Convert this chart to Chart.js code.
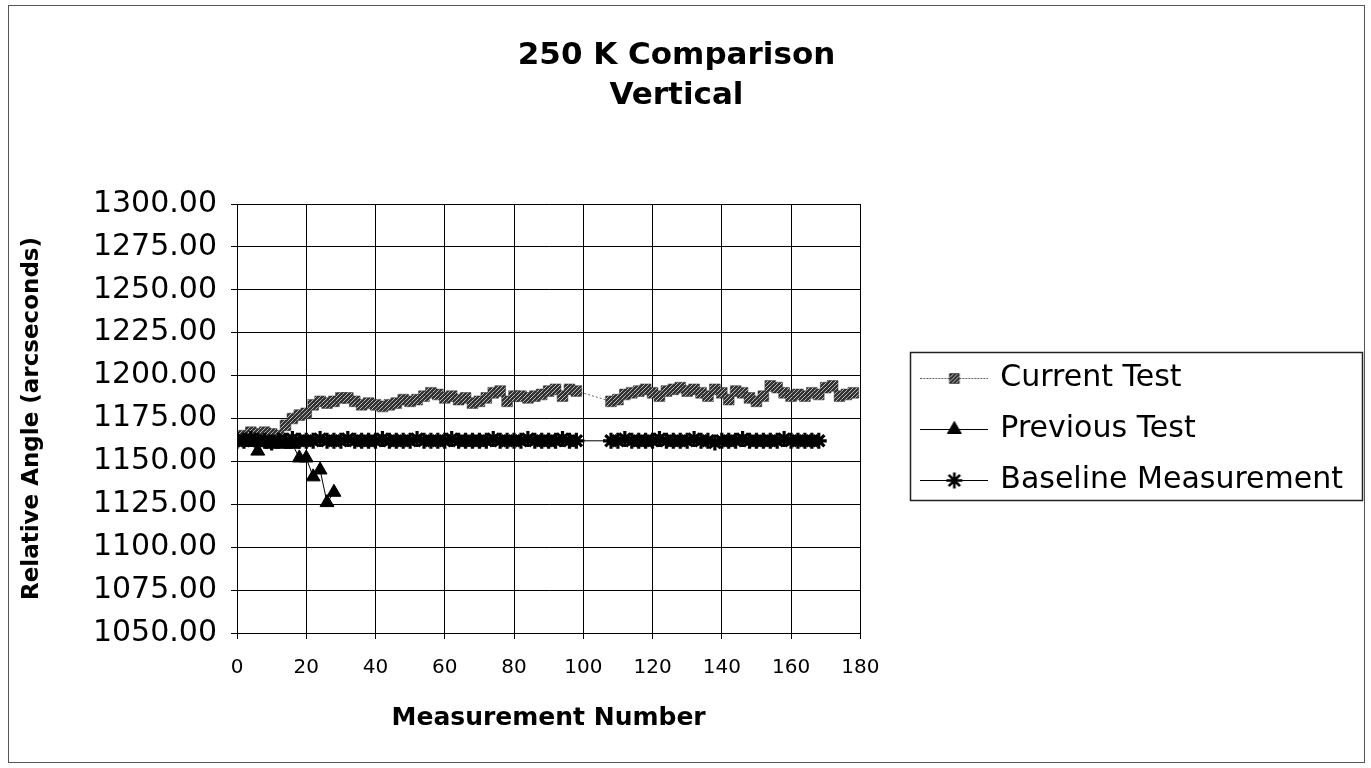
<!DOCTYPE html>
<html>
<head>
<meta charset="utf-8">
<title>250 K Comparison - Vertical</title>
<script src="https://cdn.jsdelivr.net/npm/chart.js@4.4.1/dist/chart.umd.min.js"></script>
<style>
  body { margin: 0; background: #fff; }
  canvas { display: block; }
</style>
</head>
<body>
<canvas id="chart" width="1371" height="768"></canvas>
<script>
// ===== DATA =====
var seriesNames = ['Current Test', 'Previous Test', 'Baseline Measurement'];

var xTickValues = [0, 20, 40, 60, 80, 100, 120, 140, 160, 180];
var yTickValues = [1050, 1075, 1100, 1125, 1150, 1175, 1200, 1225, 1250, 1275, 1300];

// Current Test (measurement number / relative angle)
var currentNums = [0, 2, 4, 6, 8, 10, 12, 14, 16, 18, 20, 22, 24, 26, 28, 30, 32, 34, 36, 38,
    40, 42, 44, 46, 48, 50, 52, 54, 56, 58, 60, 62, 64, 66, 68, 70, 72, 74, 76, 78,
    80, 82, 84, 86, 88, 90, 92, 94, 96, 98,
    108, 110, 112, 114, 116, 118, 120, 122, 124, 126, 128, 130, 132, 134, 136, 138,
    140, 142, 144, 146, 148, 150, 152, 154, 156, 158, 160, 162, 164, 166, 168, 170,
    172, 174, 176, 178];
var currentVals = [1164, 1165, 1167, 1166, 1167, 1166, 1165, 1171, 1175, 1177, 1178, 1183, 1185, 1184, 1185, 1187, 1187, 1185, 1183, 1184,
    1183, 1182, 1183, 1184, 1186, 1185, 1186, 1188, 1190, 1189, 1187, 1188, 1186, 1187, 1184, 1185, 1187, 1190, 1191, 1185,
    1188, 1188, 1187, 1188, 1189, 1191, 1192, 1188, 1192, 1191,
    1185, 1186, 1189, 1190, 1191, 1192, 1190, 1188, 1191, 1192, 1193, 1191, 1192, 1190, 1188, 1192,
    1190, 1186, 1191, 1190, 1187, 1185, 1188, 1194, 1193, 1190, 1188, 1189, 1188, 1190, 1189, 1193,
    1194, 1188, 1189, 1190];

// Previous Test
var previousNums = [0, 2, 4, 6, 8, 10, 12, 14, 16, 18, 20, 22, 24, 26, 28];
var previousVals = [1163, 1162, 1161, 1156, 1161, 1160, 1161, 1160, 1160, 1152, 1152, 1141, 1145, 1126, 1132];

// Baseline Measurement
var baselineNums = [0, 2, 4, 6, 8, 10, 12, 14, 16, 18, 20, 22, 24, 26, 28, 30, 32, 34, 36, 38,
    40, 42, 44, 46, 48, 50, 52, 54, 56, 58, 60, 62, 64, 66, 68, 70, 72, 74, 76, 78,
    80, 82, 84, 86, 88, 90, 92, 94, 96, 98,
    108, 110, 112, 114, 116, 118, 120, 122, 124, 126, 128, 130, 132, 134, 136, 138,
    140, 142, 144, 146, 148, 150, 152, 154, 156, 158, 160, 162, 164, 166, 168];
var baselineVals = [1162, 1162, 1163, 1162, 1162, 1161, 1162, 1162, 1163, 1162, 1162, 1162, 1163, 1162, 1162, 1162, 1163, 1162, 1162, 1162,
    1162, 1163, 1162, 1162, 1162, 1162, 1163, 1162, 1162, 1162, 1162, 1163, 1162, 1162, 1162, 1162, 1162, 1163, 1162, 1162,
    1162, 1162, 1163, 1162, 1162, 1162, 1162, 1163, 1162, 1162,
    1162, 1162, 1163, 1162, 1162, 1162, 1162, 1163, 1162, 1162, 1162, 1162, 1163, 1162, 1162, 1161,
    1162, 1162, 1162, 1163, 1162, 1162, 1162, 1162, 1162, 1163, 1162, 1162, 1162, 1162, 1162];

function toPoints(nums, vals) {
    return nums.map(function(n, i) { return { x: n, y: vals[i] }; });
}

// ===== STYLE HELPERS =====
Chart.defaults.font.family = "'DejaVu Sans', sans-serif";
Chart.defaults.color = '#000';

var mainCtx = document.getElementById('chart').getContext('2d');

// grey cross-hatched fill used by the "Current Test" squares
function makeHatch() {
    var c = document.createElement('canvas');
    c.width = 4; c.height = 4;
    var g = c.getContext('2d');
    g.fillStyle = '#333';
    g.fillRect(0, 0, 4, 4);
    g.fillStyle = '#bbb';
    g.fillRect(0, 0, 1, 1);
    g.fillRect(2, 2, 1, 1);
    g.fillRect(1, 3, 1, 1);
    g.fillRect(3, 1, 1, 1);
    return mainCtx.createPattern(c, 'repeat');
}
var hatch = makeHatch();

// legend icons: short line with the marker in the middle
function makeIcon(style, radius, fill, lineColor, dashed, pointBorder) {
    var c = document.createElement('canvas');
    c.width = 68; c.height = 24;
    var g = c.getContext('2d');
    g.strokeStyle = lineColor;
    g.lineWidth = 1;
    if (dashed) g.setLineDash([2, 1]);
    g.beginPath();
    g.moveTo(0, 12.5);
    g.lineTo(68, 12.5);
    g.stroke();
    g.setLineDash([]);
    g.fillStyle = fill;
    g.strokeStyle = '#000';
    g.lineWidth = pointBorder;
    Chart.helpers.drawPoint(g, { pointStyle: style, radius: radius, borderWidth: pointBorder, rotation: 0 }, 34, 12.5);
    return c;
}
var legendIcons = [
    makeIcon('rect', 7, hatch, '#666', true, 0.5),
    makeIcon('triangle', 8, '#000', '#000', false, 1),
    makeIcon('star', 8, '#000', '#000', false, 2.6)
];

// ===== PLUGINS =====
var frame = {
    id: 'frame',
    beforeDraw: function(chart) {
        var ctx = chart.ctx;
        ctx.save();
        ctx.fillStyle = '#fff';
        ctx.fillRect(0, 0, chart.width, chart.height);
        ctx.restore();
    },
    afterDraw: function(chart) {
        var ctx = chart.ctx;
        ctx.save();
        ctx.strokeStyle = '#555';
        ctx.lineWidth = 1;
        ctx.strokeRect(8.5, 5.5, 1356, 757);
        // legend box
        var lg = chart.legend;
        var hb = lg.legendHitBoxes;
        if (hb && hb.length) {
            var top = hb[0].top - 11;
            var bottom = hb[hb.length - 1].top + 35;
            ctx.strokeStyle = '#222';
            ctx.lineWidth = 1.5;
            ctx.strokeRect(Math.round(lg.left + 8) + 0.5, Math.round(top) + 0.5,
                Math.round(lg.right - lg.left + 1), Math.round(bottom - top));
        }
        ctx.restore();
    }
};

// ===== CHART =====
new Chart(mainCtx, {
    type: 'scatter',
    data: {
        datasets: [{
            label: seriesNames[0],
            data: toPoints(currentNums, currentVals),
            showLine: true,
            order: 2,
            borderColor: '#6a6a6a',
            borderWidth: 1,
            borderDash: [2, 2],
            pointStyle: 'rect',
            pointRadius: 7.6,
            pointBackgroundColor: hatch,
            pointBorderColor: '#333',
            pointBorderWidth: 0.5
        }, {
            label: seriesNames[1],
            data: toPoints(previousNums, previousVals),
            showLine: true,
            order: 1,
            borderColor: '#000',
            borderWidth: 1,
            pointStyle: 'triangle',
            pointRadius: 8,
            pointBackgroundColor: '#000',
            pointBorderColor: '#000',
            pointBorderWidth: 1
        }, {
            label: seriesNames[2],
            data: toPoints(baselineNums, baselineVals),
            showLine: true,
            order: 0,
            borderColor: '#000',
            borderWidth: 1,
            pointStyle: 'star',
            pointRadius: 8,
            pointBackgroundColor: '#000',
            pointBorderColor: '#000',
            pointBorderWidth: 3.2
        }]
    },
    options: {
        responsive: false,
        animation: false,
        events: [],
        layout: { padding: { left: 0, right: 18, top: 0, bottom: 0 } },
        plugins: {
            title: {
                display: true,
                text: ['250 K Comparison', 'Vertical'],
                color: '#000',
                font: { size: 31, weight: 'bold', lineHeight: '40px' },
                padding: { top: 36, bottom: 88 }
            },
            legend: {
                display: true,
                position: 'right',
                fullSize: false,
                maxWidth: 470,
                title: { display: true, text: '', font: { size: 21, lineHeight: 1 }, padding: 0 },
                labels: {
                    usePointStyle: true,
                    pointStyleWidth: 62,
                    padding: 21,
                    color: '#000',
                    font: { size: 30 },
                    generateLabels: function(chart) {
                        return chart.data.datasets.map(function(ds, i) {
                            return {
                                text: ds.label,
                                pointStyle: legendIcons[i],
                                datasetIndex: i,
                                fillStyle: '#000',
                                strokeStyle: '#000',
                                lineWidth: 0,
                                hidden: false,
                                fontColor: '#000'
                            };
                        });
                    }
                }
            },
            tooltip: { enabled: false }
        },
        scales: {
            x: {
                type: 'linear',
                min: 0,
                max: 180,
                afterBuildTicks: function(s) {
                    s.ticks = xTickValues.map(function(v) { return { value: v }; });
                },
                afterFit: function(s) { s.height = 135; },
                grid: { color: '#000', lineWidth: 1, tickLength: 6, drawTicks: true },
                border: { color: '#000', width: 1 },
                ticks: { color: '#000', font: { size: 20 }, padding: 17, maxRotation: 0, autoSkip: false },
                title: {
                    display: true,
                    text: 'Measurement Number',
                    color: '#000',
                    font: { size: 25, weight: 'bold' },
                    padding: { top: 0, bottom: 35 }
                }
            },
            y: {
                type: 'linear',
                min: 1050,
                max: 1300,
                afterBuildTicks: function(s) {
                    s.ticks = yTickValues.map(function(v) { return { value: v }; });
                },
                afterFit: function(s) { s.width = 237; },
                grid: { color: '#000', lineWidth: 1, tickLength: 6, drawTicks: true },
                border: { color: '#000', width: 1 },
                ticks: {
                    color: '#000',
                    font: { size: 30 },
                    padding: 14,
                    autoSkip: false,
                    callback: function(v) { return Number(v).toFixed(2); }
                },
                title: {
                    display: true,
                    text: 'Relative Angle (arcseconds)',
                    color: '#000',
                    font: { size: 23, weight: 'bold' },
                    padding: { top: 18, bottom: 0 }
                }
            },
            // empty axis that keeps the gap between plot and legend
            gap: {
                type: 'linear',
                position: 'right',
                display: true,
                grid: { display: false, drawTicks: false },
                border: { display: false },
                ticks: { display: false },
                afterFit: function(s) { s.width = 42; }
            }
        }
    },
    plugins: [frame]
});
</script>
</body>
</html>
